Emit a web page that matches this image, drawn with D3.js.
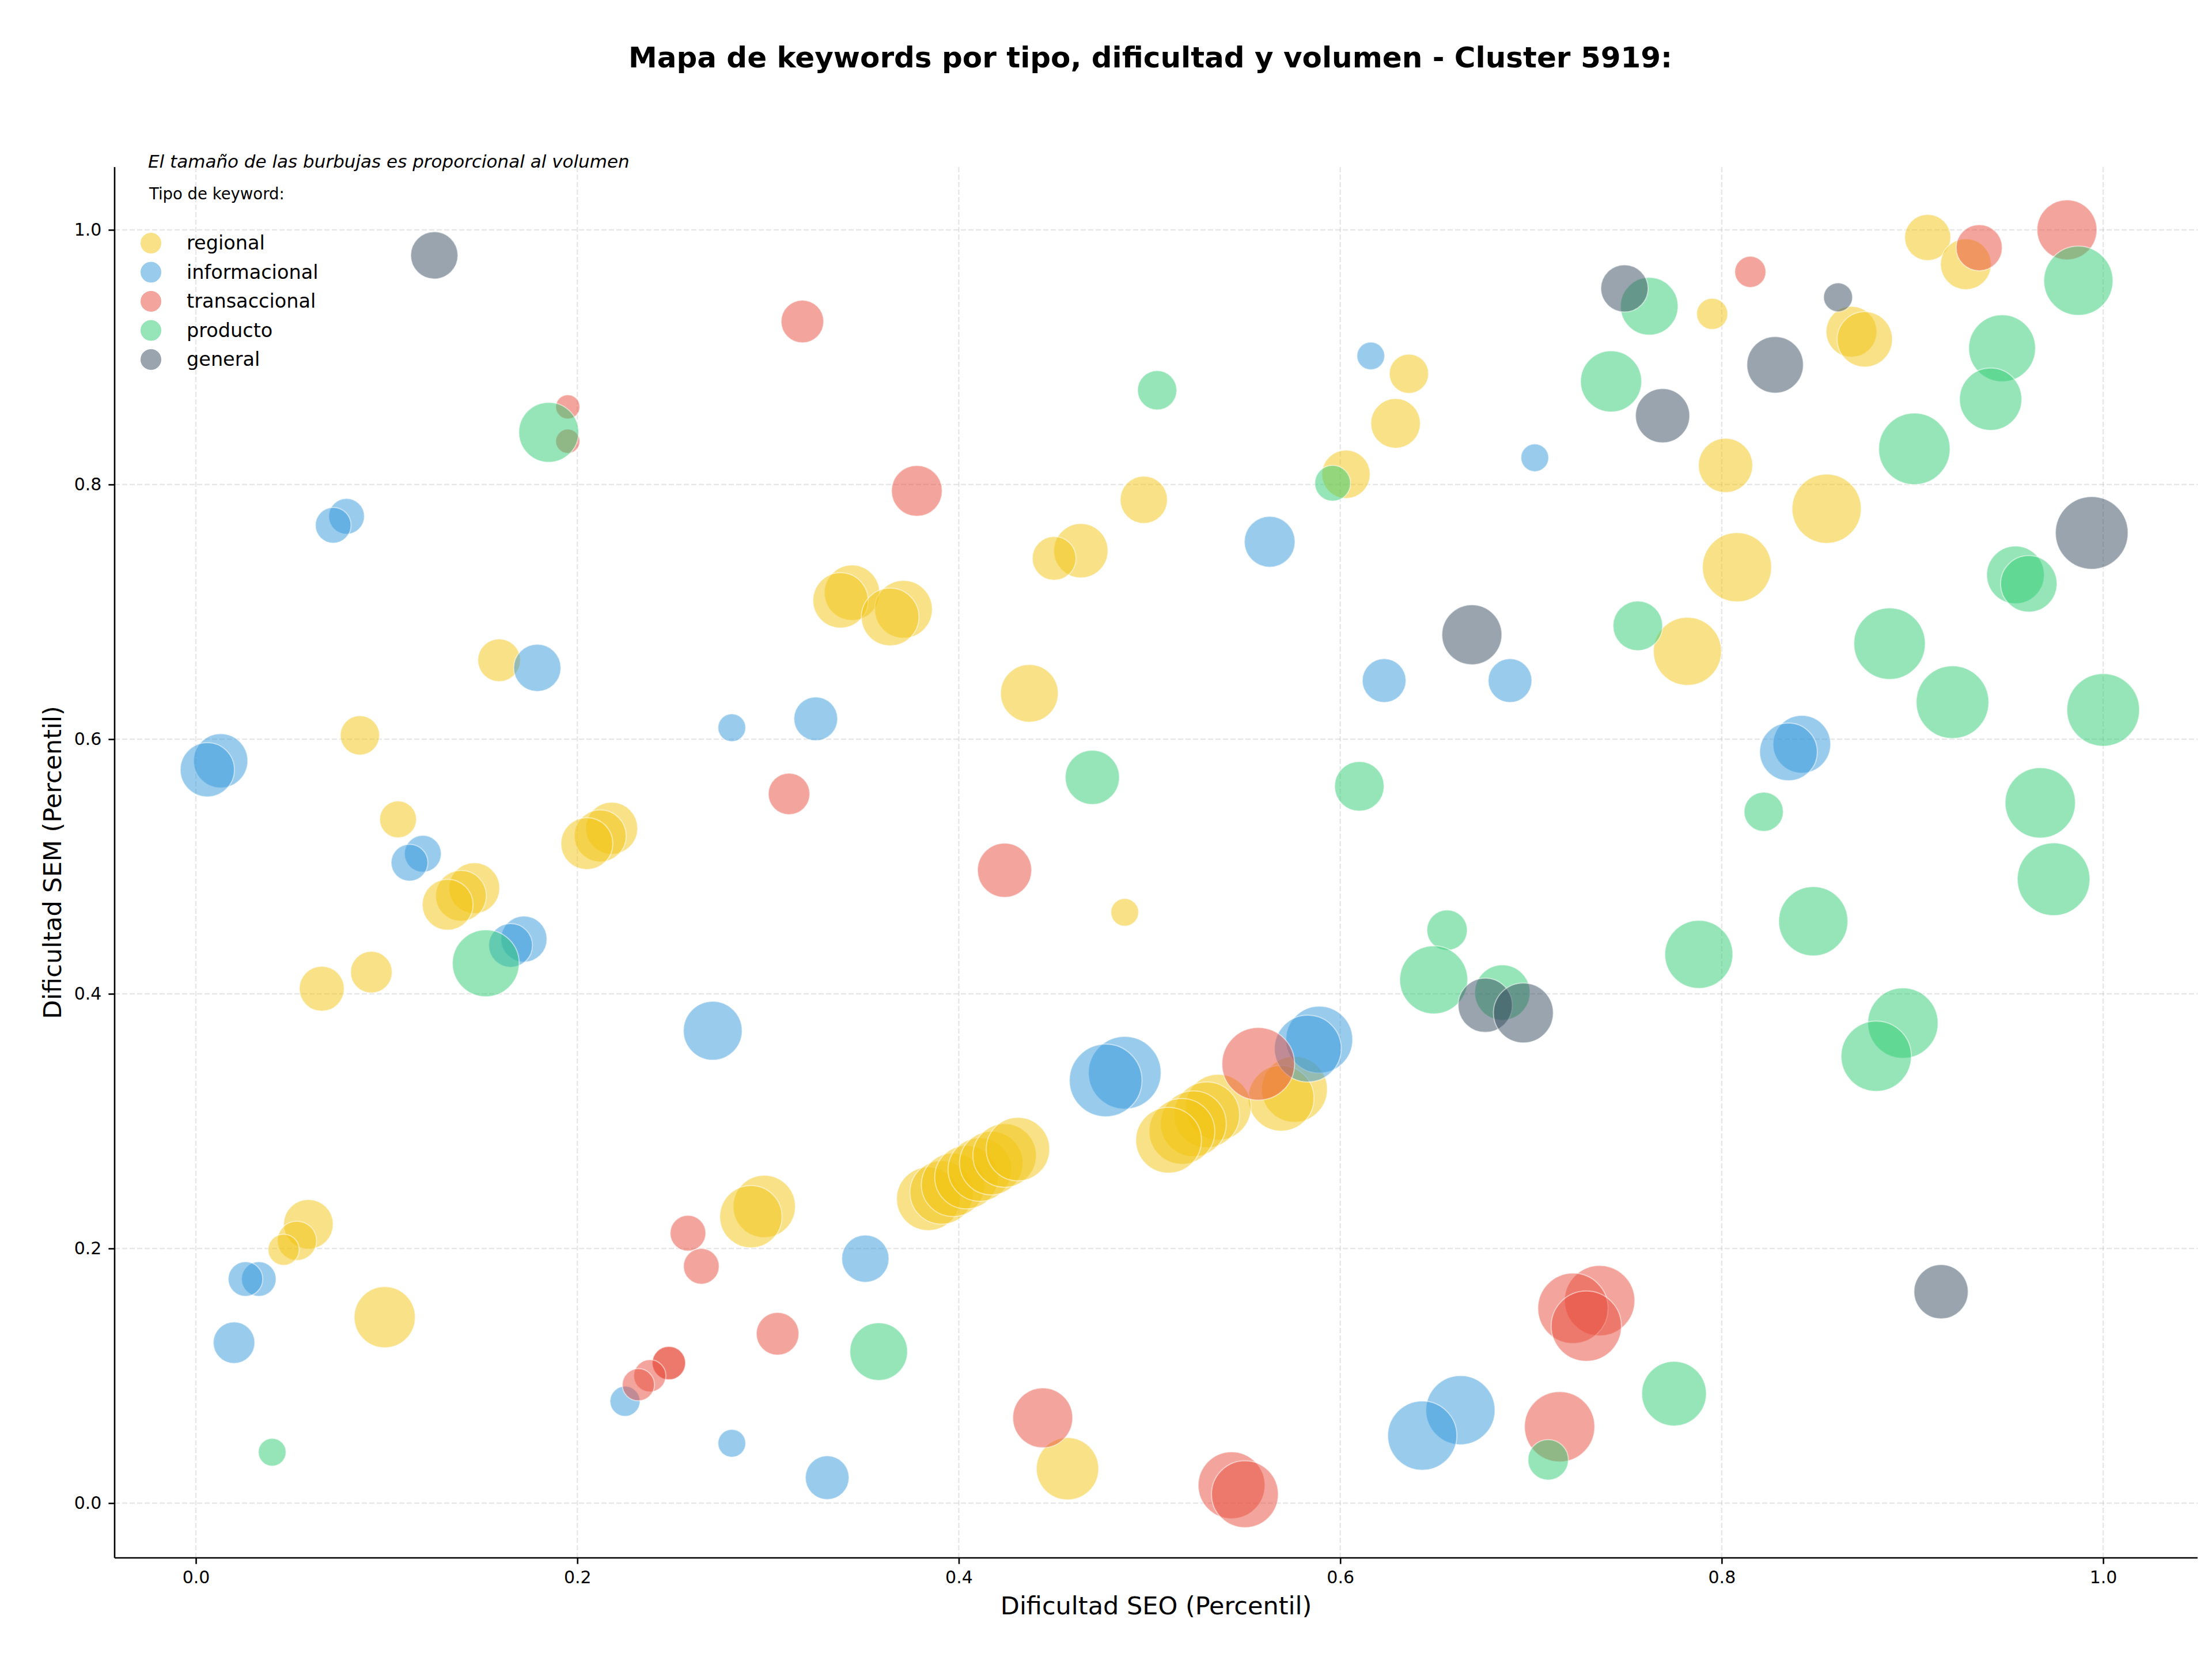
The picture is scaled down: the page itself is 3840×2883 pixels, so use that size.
<!DOCTYPE html>
<html>
<head>
<meta charset="utf-8">
<script src="https://cdn.jsdelivr.net/npm/d3@7"></script>
<style>
  body { margin: 0; background: #fff; }
  svg { display: block; font-family: "DejaVu Sans", sans-serif; }
</style>
</head>
<body>
<div id="canvas"></div>
<script>
// tipos de keyword (orden de la leyenda)
const tipos = ["regional", "informacional", "transaccional", "producto", "general"];

// regional
const regionalSEO = [0.908, 0.928, 0.795, 0.868, 0.875, 0.636, 0.629, 0.603, 0.802, 0.855, 0.808, 0.782, 0.497, 0.464, 0.450, 0.344, 0.338, 0.371, 0.364, 0.437, 0.159, 0.086, 0.106, 0.218, 0.212, 0.205, 0.146, 0.139, 0.132, 0.092, 0.066, 0.487, 0.576, 0.569, 0.536, 0.530, 0.523, 0.517, 0.510, 0.384, 0.391, 0.397, 0.404, 0.411, 0.417, 0.424, 0.431, 0.298, 0.291, 0.059, 0.053, 0.046, 0.099, 0.457];
const regionalSEM = [0.994, 0.973, 0.934, 0.920, 0.914, 0.887, 0.848, 0.808, 0.815, 0.781, 0.735, 0.669, 0.788, 0.748, 0.742, 0.715, 0.709, 0.702, 0.696, 0.636, 0.662, 0.603, 0.537, 0.530, 0.524, 0.518, 0.483, 0.477, 0.470, 0.417, 0.404, 0.464, 0.325, 0.318, 0.311, 0.305, 0.298, 0.292, 0.285, 0.239, 0.244, 0.250, 0.256, 0.262, 0.267, 0.273, 0.278, 0.233, 0.225, 0.219, 0.206, 0.199, 0.146, 0.027];
const regionalVol = [1600, 1940, 730, 1940, 2300, 1160, 1850, 1760, 2210, 3600, 3600, 3480, 1680, 2210, 1440, 2300, 2300, 2500, 2500, 2500, 1370, 1160, 1020, 2030, 2030, 2030, 1940, 1940, 1940, 1300, 1520, 580, 3250, 3250, 3250, 3250, 3250, 3250, 3250, 3030, 3030, 3030, 3030, 3030, 3030, 3030, 3030, 2920, 2920, 1850, 1160, 730, 2810, 2920];

// informacional
const informacionalSEO = [0.616, 0.702, 0.079, 0.072, 0.563, 0.179, 0.623, 0.689, 0.281, 0.325, 0.013, 0.006, 0.842, 0.835, 0.119, 0.112, 0.172, 0.165, 0.271, 0.589, 0.583, 0.487, 0.477, 0.351, 0.033, 0.026, 0.020, 0.225, 0.281, 0.331, 0.663, 0.643];
const informacionalSEM = [0.901, 0.821, 0.775, 0.768, 0.755, 0.656, 0.646, 0.646, 0.609, 0.616, 0.583, 0.576, 0.596, 0.590, 0.510, 0.503, 0.443, 0.438, 0.371, 0.364, 0.357, 0.338, 0.332, 0.192, 0.176, 0.176, 0.126, 0.080, 0.047, 0.020, 0.073, 0.053];
const informacionalVol = [580, 580, 960, 960, 1940, 1680, 1440, 1440, 580, 1440, 2210, 2210, 2500, 2500, 1020, 1020, 1600, 1440, 2600, 3360, 3360, 3970, 3970, 1680, 900, 900, 1300, 680, 580, 1440, 3600, 3600];

// transaccional
const transaccionalSEO = [0.981, 0.935, 0.815, 0.318, 0.195, 0.195, 0.378, 0.311, 0.424, 0.557, 0.258, 0.265, 0.736, 0.722, 0.729, 0.305, 0.248, 0.248, 0.238, 0.232, 0.444, 0.715, 0.543, 0.550];
const transaccionalSEM = [1.000, 0.986, 0.967, 0.928, 0.861, 0.834, 0.795, 0.557, 0.497, 0.345, 0.212, 0.186, 0.159, 0.153, 0.139, 0.133, 0.110, 0.110, 0.100, 0.093, 0.067, 0.060, 0.014, 0.007];
const transaccionalVol = [2700, 1600, 730, 1370, 440, 440, 1940, 1300, 2210, 3970, 960, 960, 3720, 3720, 3720, 1370, 840, 840, 780, 780, 2700, 3720, 3360, 3360];

// producto
const productoSEO = [0.987, 0.762, 0.947, 0.742, 0.504, 0.941, 0.185, 0.901, 0.596, 0.954, 0.961, 0.756, 0.888, 0.921, 1.000, 0.470, 0.610, 0.967, 0.822, 0.974, 0.848, 0.656, 0.788, 0.152, 0.649, 0.685, 0.895, 0.881, 0.358, 0.775, 0.040, 0.709];
const productoSEM = [0.960, 0.940, 0.907, 0.881, 0.874, 0.867, 0.841, 0.828, 0.801, 0.729, 0.722, 0.689, 0.675, 0.629, 0.623, 0.570, 0.563, 0.550, 0.543, 0.490, 0.457, 0.450, 0.431, 0.424, 0.411, 0.401, 0.377, 0.351, 0.119, 0.086, 0.040, 0.034];
const productoVol = [3600, 2500, 3360, 2810, 1160, 2920, 2700, 3840, 960, 2500, 2400, 1850, 3840, 3970, 3970, 2210, 1850, 3720, 1160, 3970, 3600, 1230, 3480, 3360, 3480, 2300, 3720, 3720, 2500, 3140, 580, 1230];

// general
const generalSEO = [0.125, 0.749, 0.861, 0.828, 0.769, 0.994, 0.669, 0.676, 0.696, 0.915];
const generalSEM = [0.980, 0.954, 0.947, 0.894, 0.854, 0.762, 0.682, 0.391, 0.385, 0.166];
const generalVol = [1680, 1680, 630, 2400, 2210, 3970, 2700, 2210, 2700, 2210];

const ticks = [0.0, 0.2, 0.4, 0.6, 0.8, 1.0];

const colores = {
    regional: "#F1C40F",
    informacional: "#3498DB",
    transaccional: "#E74C3C",
    producto: "#2ECC71",
    general: "#34495E"
};

function toRows(tipo, seo, sem, vol) {
    let rows = [];
    for (let i = 0; i < seo.length; i++) {
        rows.push({ tipo: tipo, seo: seo[i], sem: sem[i], vol: vol[i] });
    }
    return rows;
}

const series = [
    toRows("regional", regionalSEO, regionalSEM, regionalVol),
    toRows("informacional", informacionalSEO, informacionalSEM, informacionalVol),
    toRows("transaccional", transaccionalSEO, transaccionalSEM, transaccionalVol),
    toRows("producto", productoSEO, productoSEM, productoVol),
    toRows("general", generalSEO, generalSEM, generalVol)
];

const W = 3840, H = 2883;
const mLeft = 199, mRight = 3815, mTop = 290, mBottom = 2704;

const x = d3.scaleLinear().domain([-0.0426, 1.0495]).range([mLeft, mRight]);
const y = d3.scaleLinear().domain([-0.043, 1.0493]).range([mBottom, mTop]);
const r = d3.scaleSqrt().domain([0, 3970]).range([0, 63]);

const svg = d3.select('#canvas').append('svg')
    .attr('width', W)
    .attr('height', H);

// grid
const grid = svg.append('g');
grid.selectAll('line.gx').data(ticks).enter().append('line')
    .attr('class', 'gx')
    .attr('x1', d => x(d)).attr('x2', d => x(d))
    .attr('y1', mTop).attr('y2', mBottom)
    .attr('stroke', '#b0b0b0').attr('stroke-opacity', 0.3)
    .attr('stroke-width', 2.4).attr('stroke-dasharray', '9,4');
grid.selectAll('line.gy').data(ticks).enter().append('line')
    .attr('class', 'gy')
    .attr('x1', mLeft).attr('x2', mRight)
    .attr('y1', d => y(d)).attr('y2', d => y(d))
    .attr('stroke', '#b0b0b0').attr('stroke-opacity', 0.3)
    .attr('stroke-width', 2.4).attr('stroke-dasharray', '9,4');

// burbujas
const plot = svg.append('g');
series.forEach(function (rows) {
    plot.append('g').selectAll('circle')
        .data(rows)
        .enter()
        .append('circle')
        .attr('cx', d => x(d.seo))
        .attr('cy', d => y(d.sem))
        .attr('r', d => r(d.vol))
        .attr('fill', d => colores[d.tipo])
        .attr('fill-opacity', 0.5)
        .attr('stroke', '#fff')
        .attr('stroke-opacity', 0.5)
        .attr('stroke-width', 2);
});

// ejes
const xAxis = d3.axisBottom(x).tickValues(ticks).tickFormat(d3.format('.1f')).tickSize(10.6).tickPadding(12);
const yAxis = d3.axisLeft(y).tickValues(ticks).tickFormat(d3.format('.1f')).tickSize(10.6).tickPadding(12);

const gx = svg.append('g').attr('transform', 'translate(0,' + mBottom + ')').call(xAxis);
const gy = svg.append('g').attr('transform', 'translate(' + mLeft + ',0)').call(yAxis);
[gx, gy].forEach(function (g) {
    g.select('.domain').attr('stroke', '#000').attr('stroke-width', 2.6);
    g.selectAll('.tick line').attr('stroke', '#000').attr('stroke-width', 2.6);
    g.selectAll('.tick text').attr('fill', '#000')
        .style('font-family', '"DejaVu Sans", sans-serif').style('font-size', '30px');
});
gx.select('.domain').attr('d', 'M' + mLeft + ',0H' + mRight);
gy.select('.domain').attr('d', 'M0,' + mBottom + 'V' + mTop);

// titulos
svg.append('text')
    .attr('x', 1997).attr('y', 117)
    .attr('text-anchor', 'middle')
    .style('font-size', '50px').style('font-weight', 'bold')
    .text('Mapa de keywords por tipo, dificultad y volumen - Cluster 5919:');

svg.append('text')
    .attr('x', 2007).attr('y', 2802)
    .attr('text-anchor', 'middle')
    .style('font-size', '43px')
    .text('Dificultad SEO (Percentil)');

svg.append('text')
    .attr('transform', 'translate(106,1497) rotate(-90)')
    .attr('text-anchor', 'middle')
    .style('font-size', '43px')
    .text('Dificultad SEM (Percentil)');

svg.append('text')
    .attr('x', 257).attr('y', 291)
    .style('font-size', '31px').style('font-style', 'italic')
    .text('El tamaño de las burbujas es proporcional al volumen');

// leyenda
const legend = svg.append('g');
legend.append('text')
    .attr('x', 259).attr('y', 346)
    .style('font-size', '27.5px')
    .text('Tipo de keyword:');

const items = legend.selectAll('g.item').data(tipos).enter().append('g')
    .attr('transform', (d, i) => 'translate(262,' + (422 + i * 50.5) + ')');
items.append('circle')
    .attr('r', 19)
    .attr('fill', d => colores[d])
    .attr('fill-opacity', 0.5)
    .attr('stroke', '#fff').attr('stroke-width', 2);
items.append('text')
    .attr('x', 62).attr('y', 11)
    .style('font-size', '33.5px')
    .text(d => d);
</script>
</body>
</html>
